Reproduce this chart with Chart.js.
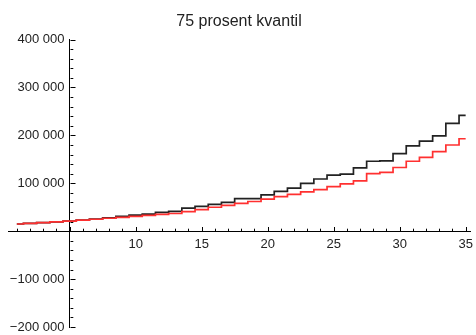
<!DOCTYPE html>
<html>
<head>
<meta charset="utf-8">
<title>75 prosent kvantil</title>
<script src="https://cdn.jsdelivr.net/npm/chart.js@4/dist/chart.umd.min.js"></script>
<style>
  html, body { margin: 0; padding: 0; background: #fff; }
</style>
</head>
<body>
<canvas id="chart" width="476" height="335"></canvas>
<script>
// year index along the x axis
const years = [1, 2, 3, 4, 5, 6, 7, 8, 9, 10, 11, 12, 13, 14, 15, 16, 17, 18,
  19, 20, 21, 22, 23, 24, 25, 26, 27, 28, 29, 30, 31, 32, 33, 34, 35];

// black step line
const blackValues = [15000, 16500, 18000, 19500, 21000, 23000, 25500, 28000,
  31000, 33500, 35500, 39500, 41500, 48000, 52000, 56000, 60000, 68000, 68000,
  76000, 83000, 90000, 100000, 109000, 117000, 119000, 132000, 146000, 147000,
  162000, 178000, 188000, 199000, 225000, 242000];

// red step line
const redValues = [15000, 16500, 18000, 19500, 21000, 23000, 25000, 27000,
  29000, 31000, 33000, 35000, 37000, 41000, 45000, 50000, 54000, 58000, 62000,
  67000, 72000, 77000, 82000, 87000, 93000, 99000, 105000, 120000, 123000,
  133000, 146000, 154000, 166000, 180000, 193000];

const xLabelTicks = [10, 15, 20, 25, 30, 35];
const yLabelTicks = [-200000, -100000, 100000, 200000, 300000, 400000];

const yAxisAt = 5;
const labelFont = { family: 'Liberation Sans, Arial, sans-serif', size: 13 };

// 400000 -> "400 000", with a little room kept before the axis line
function fmt(v) {
  const s = Math.abs(v).toString();
  const grouped = s.length > 3 ? s.slice(0, -3) + '\u00a0' + s.slice(-3) : s;
  return (v < 0 ? '\u2212' : '') + grouped + '\u2009\u2009';
}

function range(a, b, step) {
  const out = [];
  for (let v = a; v <= b + 1e-9; v += step) out.push(v);
  return out;
}

// axes sit inside the plot, so they should not take layout room
function noRoom(scale) {
  if (scale.axis === 'x') scale.height = 0;
  else scale.width = 0;
  scale.paddingLeft = 0;
  scale.paddingRight = 0;
  scale.paddingTop = 0;
  scale.paddingBottom = 0;
}

// small inward tick marks, Mathematica style
const axisTicks = {
  id: 'axisTicks',
  afterDraw(chart) {
    const { ctx, scales: { x, y } } = chart;
    const x0 = Math.round(x.getPixelForValue(yAxisAt)) + 0.5;
    const y0 = Math.round(y.getPixelForValue(0)) + 0.5;
    ctx.save();
    ctx.strokeStyle = '#000';
    ctx.lineWidth = 1;
    ctx.beginPath();
    y.ticks.forEach(t => {
      const py = Math.round(y.getPixelForValue(t.value)) + 0.5;
      const len = t.value % 100000 === 0 ? 5 : 2.8;
      ctx.moveTo(x0, py);
      ctx.lineTo(x0 + len, py);
    });
    x.ticks.forEach(t => {
      const px = Math.round(x.getPixelForValue(t.value)) + 0.5;
      const len = t.value % 5 === 0 ? 4.5 : 2.8;
      ctx.moveTo(px, y0);
      ctx.lineTo(px, y0 - len);
    });
    ctx.stroke();
    ctx.restore();
  }
};

const ctx = document.getElementById('chart').getContext('2d');

new Chart(ctx, {
  type: 'line',
  data: {
    datasets: [
      {
        label: 'rød',
        data: years.map((x, i) => ({ x: x, y: redValues[i] })),
        borderColor: '#ff3030',
        borderWidth: 1.7,
        stepped: 'middle',
        pointRadius: 0,
        fill: false,
      },
      {
        label: 'svart',
        data: years.map((x, i) => ({ x: x, y: blackValues[i] })),
        borderColor: '#222',
        borderWidth: 1.7,
        stepped: 'middle',
        pointRadius: 0,
        fill: false,
      },
    ],
  },
  options: {
    responsive: false,
    animation: false,
    layout: { padding: { left: 8, right: 6, top: 0, bottom: 8 } },
    plugins: {
      legend: { display: false },
      tooltip: { enabled: false },
      title: {
        display: true,
        text: '75 prosent kvantil',
        color: '#222',
        font: { family: labelFont.family, size: 16, weight: 'normal', lineHeight: 1.2 },
        padding: { top: 11.5, bottom: 8.9 },
      },
    },
    scales: {
      x: {
        type: 'linear',
        min: 0.33,
        max: 35.33,
        position: { y: 0 },
        afterFit: noRoom,
        afterBuildTicks: scale => {
          scale.ticks = range(1, 35, 1).map(v => ({ value: v }));
        },
        grid: { display: false, drawTicks: false },
        border: { display: true, color: '#000', width: 1 },
        ticks: {
          color: '#222',
          font: labelFont,
          padding: 5,
          maxRotation: 0,
          autoSkip: false,
          callback: v => (xLabelTicks.includes(v) ? String(v) : ''),
        },
      },
      y: {
        type: 'linear',
        min: -200000,
        max: 400000,
        position: { x: yAxisAt },
        afterFit: noRoom,
        afterBuildTicks: scale => {
          scale.ticks = range(-200000, 400000, 20000).map(v => ({ value: v }));
        },
        grid: { display: false, drawTicks: false },
        border: { display: true, color: '#000', width: 1 },
        ticks: {
          color: '#222',
          font: labelFont,
          autoSkip: false,
          callback: v => (yLabelTicks.includes(v) ? fmt(v) : ''),
        },
      },
    },
  },
  plugins: [axisTicks],
});
</script>
</body>
</html>
